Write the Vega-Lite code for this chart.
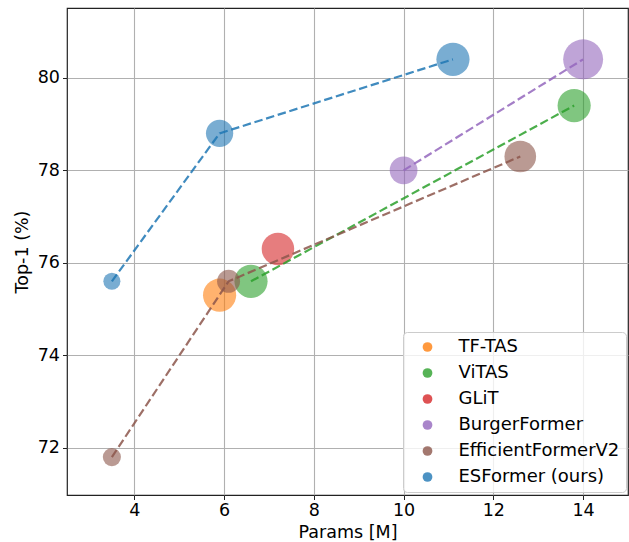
{
  "$schema": "https://vega.github.io/schema/vega-lite/v6.json",
  "width": 561,
  "height": 487,
  "autosize": {"type": "none"},
  "padding": {"left": 67, "top": 8, "right": 1, "bottom": 47},
  "background": "white",
  "config": {
    "view": {"stroke": "#222222", "strokeWidth": 1.2},
    "font": "DejaVu Sans",
    "axis": {
      "labelFont": "DejaVu Sans",
      "labelFontSize": 17.5,
      "labelColor": "#000000",
      "titleFont": "DejaVu Sans",
      "titleFontSize": 17.5,
      "titleFontWeight": "normal",
      "titleColor": "#000000",
      "tickColor": "#222222",
      "tickSize": 4.5,
      "tickWidth": 1,
      "domain": false,
      "grid": true,
      "gridColor": "#b0b0b0",
      "gridWidth": 1.1
    },
    "legend": {
      "labelFont": "DejaVu Sans",
      "labelFontSize": 18,
      "labelColor": "#000000",
      "labelLimit": 400
    }
  },
  "data": {
    "values": [
      {"model": "TF-TAS", "params": 5.9, "top1": 75.3, "flops": 2.0},
      {"model": "ViTAS", "params": 6.6, "top1": 75.6, "flops": 2.0},
      {"model": "ViTAS", "params": 13.8, "top1": 79.4, "flops": 2.0},
      {"model": "GLiT", "params": 7.2, "top1": 76.3, "flops": 1.92},
      {"model": "BurgerFormer", "params": 10.0, "top1": 78.0, "flops": 1.4},
      {"model": "BurgerFormer", "params": 14.0, "top1": 80.4, "flops": 2.9},
      {"model": "EfficientFormerV2", "params": 3.5, "top1": 71.8, "flops": 0.6},
      {"model": "EfficientFormerV2", "params": 6.1, "top1": 75.6, "flops": 0.96},
      {"model": "EfficientFormerV2", "params": 12.6, "top1": 78.3, "flops": 1.82},
      {"model": "ESFormer (ours)", "params": 3.5, "top1": 75.6, "flops": 0.53},
      {"model": "ESFormer (ours)", "params": 5.9, "top1": 78.8, "flops": 1.35},
      {"model": "ESFormer (ours)", "params": 11.1, "top1": 80.4, "flops": 2.0}
    ]
  },
  "encoding": {
    "x": {
      "field": "params",
      "type": "quantitative",
      "title": "Params [M]",
      "scale": {"domain": [2.5, 15], "nice": false, "zero": false},
      "axis": {"values": [4, 6, 8, 10, 12, 14], "labelPadding": 2, "titlePadding": 4}
    },
    "y": {
      "field": "top1",
      "type": "quantitative",
      "title": "Top-1 (%)",
      "scale": {"domain": [70.98, 81.51], "nice": false, "zero": false},
      "axis": {"values": [72, 74, 76, 78, 80], "labelPadding": 3, "titlePadding": 6}
    },
    "color": {
      "field": "model",
      "type": "nominal",
      "scale": {
        "domain": ["TF-TAS", "ViTAS", "GLiT", "BurgerFormer", "EfficientFormerV2", "ESFormer (ours)"],
        "range": ["#ff7f0e", "#2ca02c", "#d62728", "#9467bd", "#8c564b", "#1f77b4"]
      }
    }
  },
  "layer": [
    {
      "mark": {"type": "circle", "opacity": 0.6, "stroke": null},
      "encoding": {
        "size": {
          "field": "flops",
          "type": "quantitative",
          "scale": {"domain": [0, 3], "range": [0, 1650], "zero": true},
          "legend": null
        },
        "color": {
          "field": "model",
          "type": "nominal",
          "legend": {
            "title": null,
            "orient": "none",
            "legendX": 336,
            "legendY": 324,
            "symbolType": "circle",
            "symbolSize": 95,
            "symbolOpacity": 0.8,
            "symbolStrokeWidth": 0,
            "padding": 6,
            "symbolOffset": 9.5,
            "labelOffset": 22,
            "rowPadding": 8,
            "labelLimit": 400,
            "fillColor": "rgba(255,255,255,0.8)",
            "strokeColor": "#cccccc",
            "cornerRadius": 4
          }
        }
      }
    },
    {
      "mark": {"type": "line", "strokeDash": [8.5, 3.7], "strokeWidth": 2.2, "opacity": 0.85},
      "encoding": {
        "color": {"field": "model", "type": "nominal", "legend": null},
        "detail": {"field": "model"}
      }
    }
  ]
}
